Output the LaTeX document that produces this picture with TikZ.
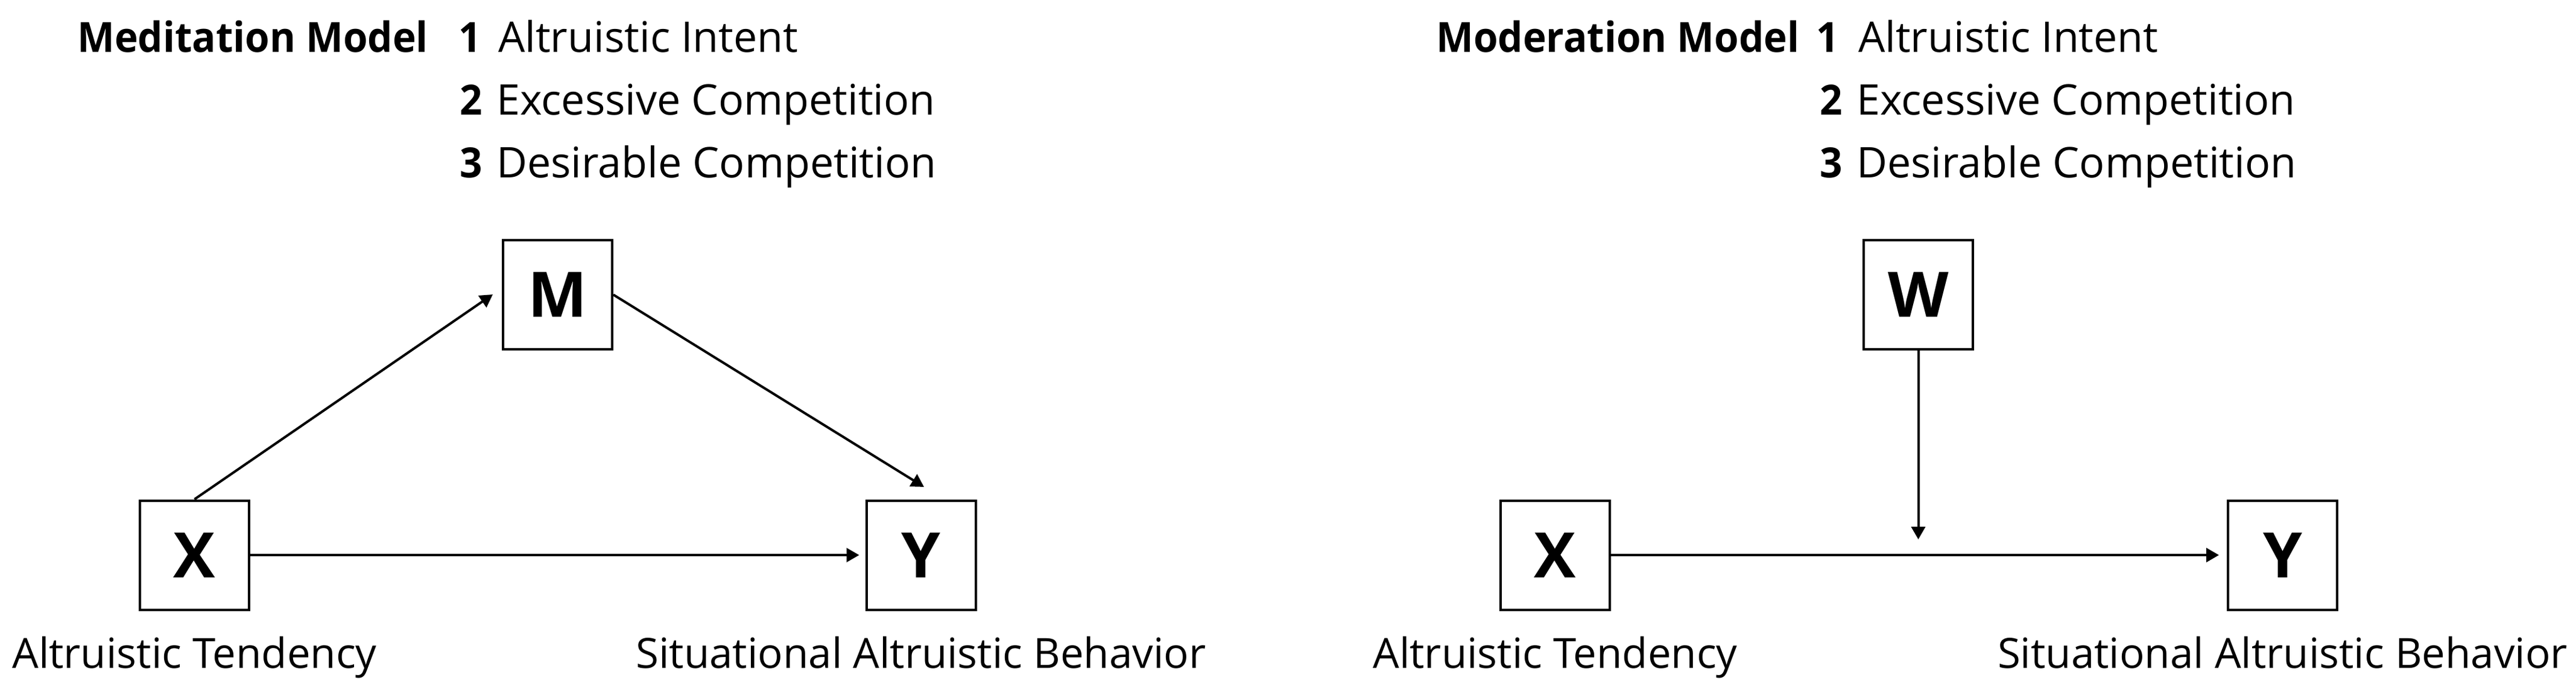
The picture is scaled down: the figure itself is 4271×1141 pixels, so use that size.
\documentclass[tikz,border=0pt]{standalone}
\usepackage{fontspec}
\usepackage{graphicx}
\setmainfont{Open Sans}
\usetikzlibrary{arrows.meta}
\newcommand{\ttlbox}[1]{\scalebox{0.95}[1]{#1}}
\begin{document}
\begin{tikzpicture}[x=1pt,y=-1pt,
  box/.style={draw, line width=4pt, minimum size=181pt, inner sep=0pt, font=\fontsize{104}{110}\selectfont\bfseries},
  txt/.style={inner sep=0pt, anchor=base west, font=\fontsize{70}{80}\selectfont},
  ttl/.style={inner sep=0pt, anchor=base west, font=\fontsize{69}{80}\selectfont\bfseries},
  lbl/.style={inner sep=0pt, anchor=base, font=\fontsize{69}{80}\selectfont},
  arr/.style={line width=4pt, -{Triangle[length=21pt,width=23pt]}}]
\useasboundingbox (0,0) rectangle (4271,1141);
% ---------- Mediation model ----------
\node[ttl] (t1) at (128,86) {\ttlbox{Meditation Model}};
\node[ttl] (n11) at (760,86) {\ttlbox{1}};
\node[txt] (i11) at (826,86) {Altruistic Intent};
\node[ttl] (n12) at (762,190) {\ttlbox{2}};
\node[txt] (i12) at (823,190) {Excessive Competition};
\node[ttl] (n13) at (762,294) {\ttlbox{3}};
\node[txt] (i13) at (823,294) {Desirable Competition};
\node[box] (M) at (924.5,488.5) {M};
\node[box] (X1) at (322.5,920) {X};
\node[box] (Y1) at (1527,920) {Y};
\node[lbl] (lx1) at (322.5,1107) {Altruistic Tendency};
\node[lbl] (ly1) at (1527,1107) {Situational Altruistic Behavior};
\coordinate (Min) at (817,488);
\coordinate (Yin) at (1532,807);
\draw[arr] (X1.north) -- (Min);
\draw[arr] (M.east) -- (Yin);
\draw[arr, shorten >=10pt] (X1.east) -- (Y1.west);
% ---------- Moderation model ----------
\node[ttl] (t2) at (2381,86) {\ttlbox{Moderation Model}};
\node[ttl] (n21) at (3011,86) {\ttlbox{1}};
\node[txt] (i21) at (3081,86) {Altruistic Intent};
\node[ttl] (n22) at (3017,190) {\ttlbox{2}};
\node[txt] (i22) at (3078,190) {Excessive Competition};
\node[ttl] (n23) at (3017,294) {\ttlbox{3}};
\node[txt] (i23) at (3078,294) {Desirable Competition};
\node[box] (W) at (3180.5,488) {W};
\node[box] (X2) at (2578.5,920) {X};
\node[box] (Y2) at (3784.5,920) {Y};
\node[lbl] (lx2) at (2578.5,1107) {Altruistic Tendency};
\node[lbl] (ly2) at (3784.5,1107) {Situational Altruistic Behavior};
\coordinate (Win) at (3180.5,894);
\draw[arr] (W.south) -- (Win);
\draw[arr, shorten >=13pt] (X2.east) -- (Y2.west);
\end{tikzpicture}
\end{document}
